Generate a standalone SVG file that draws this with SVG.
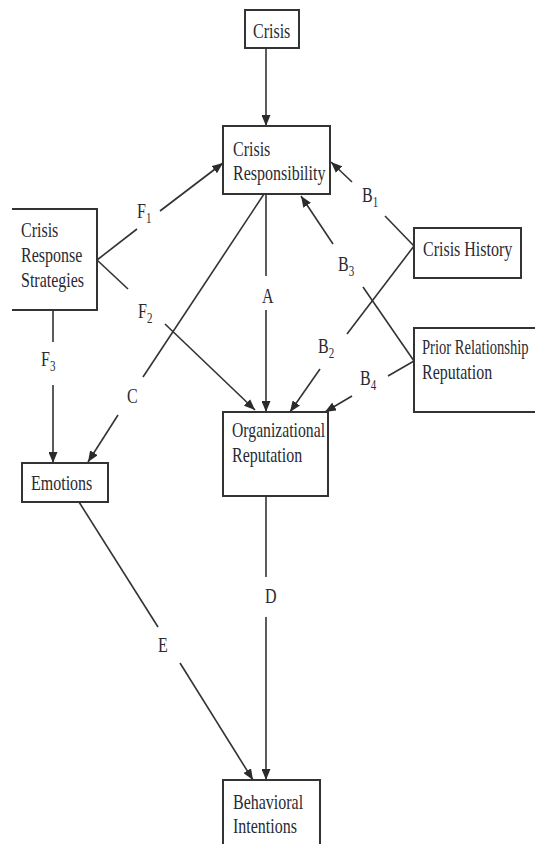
<svg xmlns="http://www.w3.org/2000/svg" width="535" height="844" viewBox="0 0 535 844">
<defs>
<marker id="ah" markerUnits="userSpaceOnUse" markerWidth="11" markerHeight="9" refX="11" refY="4.5" orient="auto">
<path d="M0,0 L11,4.5 L0,9 z" fill="#2b2b2b"/>
</marker>
<style>
.box{fill:#fff;stroke:#333;stroke-width:2}
.ln{fill:none;stroke:#333;stroke-width:1.6}
.ar{marker-end:url(#ah)}
.t{font-family:"Liberation Serif","Times New Roman",serif;font-size:16px;fill:#2a2a33}
.s{font-size:11px}
</style>
</defs>
<rect width="535" height="844" fill="#fff"/>
<g id="connectors">
<path class="ln ar" d="M266,48 V126"/>
<path class="ln" d="M97,260 L137,229"/><path class="ln ar" d="M160,211 L223,163"/>
<path class="ln" d="M97,260 L128,289"/><path class="ln ar" d="M165,324 L255,410"/>
<path class="ln" d="M53,310 V342"/><path class="ln ar" d="M53,385 V463"/>
<path class="ln" d="M264,194 L143,377"/><path class="ln ar" d="M118,415 L88,462"/>
<path class="ln" d="M266,194 V276"/><path class="ln ar" d="M266,310 V412"/>
<path class="ln" d="M414,246 L385,216"/><path class="ln ar" d="M352,182 L331,162"/>
<path class="ln" d="M414,246 L347,334"/><path class="ln ar" d="M320,369 L290,412"/>
<path class="ln" d="M414,361 L363,287"/><path class="ln ar" d="M333,244 L301,196"/>
<path class="ln" d="M414,361 L388,376"/><path class="ln ar" d="M352,396 L325,412"/>
<path class="ln" d="M266,496 V577"/><path class="ln ar" d="M266,617 V780"/>
<path class="ln" d="M79,502 L158,627"/><path class="ln ar" d="M180,663 L253,780"/>
<g id="labels">
<text class="t" transform="translate(137,218) scale(1,1.3)">F<tspan class="s" dy="4">1</tspan></text>
<text class="t" transform="translate(138,318) scale(1,1.3)">F<tspan class="s" dy="4">2</tspan></text>
<text class="t" transform="translate(41,366) scale(1,1.3)">F<tspan class="s" dy="4">3</tspan></text>
<text class="t" transform="translate(362,202) scale(1,1.3)">B<tspan class="s" dy="4">1</tspan></text>
<text class="t" transform="translate(318,353) scale(1,1.3)">B<tspan class="s" dy="4">2</tspan></text>
<text class="t" transform="translate(338,271) scale(1,1.3)">B<tspan class="s" dy="4">3</tspan></text>
<text class="t" transform="translate(360,385) scale(1,1.3)">B<tspan class="s" dy="4">4</tspan></text>
<text class="t" transform="translate(262,303) scale(1,1.3)">A</text>
<text class="t" transform="translate(127,403) scale(1,1.3)">C</text>
<text class="t" transform="translate(265,603) scale(1,1.3)">D</text>
<text class="t" transform="translate(158,652) scale(1,1.3)">E</text>
</g>
</g>
<g id="crisis">
<rect class="box" x="245" y="10" width="54" height="38"/>
<text class="t" transform="translate(253,38) scale(1,1.3)">Crisis</text>
</g>
<g id="crisis-responsibility">
<rect class="box" x="223" y="126" width="107" height="68"/>
<text class="t" transform="translate(233,156) scale(1,1.3)">Crisis</text>
<text class="t" transform="translate(233,180) scale(1,1.3)">Responsibility</text>
</g>
<g id="crisis-response-strategies">
<path class="box" d="M12,209 H97 V310 H12"/>
<text class="t" transform="translate(21,237) scale(1,1.3)">Crisis</text>
<text class="t" transform="translate(21,262) scale(1,1.3)">Response</text>
<text class="t" transform="translate(21,287) scale(1,1.3)">Strategies</text>
</g>
<g id="crisis-history">
<rect class="box" x="414" y="228" width="107" height="50"/>
<text class="t" transform="translate(423,256) scale(1,1.3)">Crisis History</text>
</g>
<g id="prior-relationship">
<rect class="box" x="414" y="328" width="140" height="84"/>
<text class="t" style="font-size:14.6px" transform="translate(422,354) scale(1,1.42)">Prior Relationship</text>
<text class="t" transform="translate(422,379) scale(1,1.3)">Reputation</text>
</g>
<g id="organizational-reputation">
<rect class="box" x="223" y="412" width="105" height="84"/>
<text class="t" transform="translate(232,437) scale(1,1.3)" textLength="93" lengthAdjust="spacingAndGlyphs">Organizational</text>
<text class="t" transform="translate(232,462) scale(1,1.3)">Reputation</text>
</g>
<g id="emotions">
<rect class="box" x="22" y="463" width="86" height="39"/>
<text class="t" transform="translate(31,490) scale(1,1.3)">Emotions</text>
</g>
<g id="behavioral-intentions">
<rect class="box" x="223" y="780" width="97" height="80"/>
<text class="t" transform="translate(233,809) scale(1,1.3)">Behavioral</text>
<text class="t" transform="translate(233,833) scale(1,1.3)">Intentions</text>
</g>
</svg>
